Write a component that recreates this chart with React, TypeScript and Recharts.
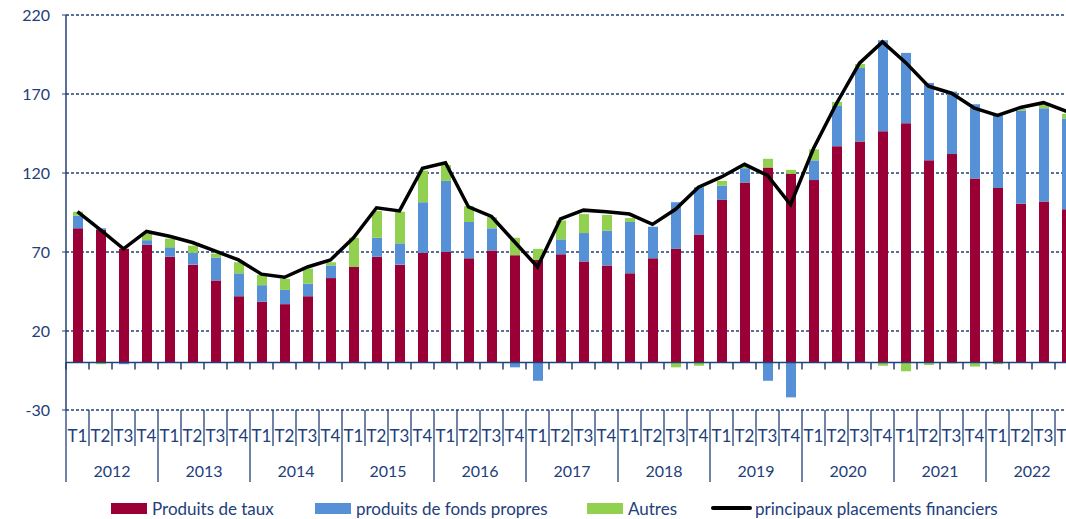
import * as React from "react";
import {
  ComposedChart,
  Bar,
  Line,
  XAxis,
  YAxis,
  CartesianGrid,
  ReferenceLine,
} from "recharts";

const YEARS = [2012, 2013, 2014, 2015, 2016, 2017, 2018, 2019, 2020, 2021, 2022];
const QUARTERS = ["T1", "T2", "T3", "T4"];

// one value per quarter, T1 2012 .. T4 2022
const TAUX = [
  85, 84, 72, 74.5, 67, 62, 52, 42, 38.5, 37, 42, 53.5,
  60.5, 67, 62, 69.5, 70, 66, 71, 68, 65, 68.5, 64, 61.5,
  56.5, 66, 72, 81, 103, 114, 123.5, 119.5, 115.5, 137, 140, 146.5,
  151.5, 128, 132, 116.5, 110.5, 100.5, 102, 97,
];
const FONDS_PROPRES = [
  8, 1, -1, 3, 6, 7.5, 14.5, 14.5, 10.5, 9, 8, 8,
  0, 12, 13.5, 32, 45, 23, 14, -3, -11.5, 9.5, 18, 22,
  32.5, 20, 29.5, 30, 9, 9, -11.5, -22, 12.5, 25.5, 46.5, 57.5,
  44.5, 49, 39.5, 47, 46, 59, 59, 57.5,
];
const AUTRES = [
  2.5, -1, 0, 4, 5.5, 4.5, 2.5, 7, 6.5, 7, 9.5, 2,
  18.5, 17, 20, 20, 10, 10, 7, 11, 7, 12, 12, 10,
  2.5, 0, -3, -2, 3, 1.5, 5.5, 2.5, 7, 2.5, 2.5, -2,
  -5.5, -1.5, -0.5, -2.5, -1, 1, 2, 3,
];
const PLACEMENTS = [
  95.5, 84, 72, 83, 80, 76, 70.5, 65, 56, 54, 60.5, 65,
  79, 98, 96, 123, 126.5, 98.5, 92.5, 76.5, 60.5, 91, 96.5, 95.5,
  94, 87.5, 97, 111, 117.5, 125.5, 118.5, 100, 135.5, 164, 189.5, 203,
  190, 175, 170.5, 161, 156.5, 161.5, 164.5, 159,
];

const Y_TICKS = [-30, 20, 70, 120, 170, 220];

const SERIES = [
  { key: "taux", name: "Produits de taux", color: "#9A0036", kind: "bar" },
  { key: "fp", name: "produits de fonds propres", color: "#5690D6", kind: "bar" },
  { key: "autres", name: "Autres", color: "#92D050", kind: "bar" },
  { key: "total", name: "principaux placements financiers", color: "#000000", kind: "line" },
];

const data = YEARS.flatMap((year, yi) =>
  QUARTERS.map((q, qi) => {
    const i = yi * 4 + qi;
    return {
      q,
      year,
      taux: TAUX[i],
      fp: FONDS_PROPRES[i],
      autres: AUTRES[i],
      total: PLACEMENTS[i],
    };
  })
);

const NAVY = "#22407A";
const FONT = "Lato, 'Liberation Sans', sans-serif";

// layout
const W = 1088;
const H = 519;
const MARGIN = { top: 15, right: 10, bottom: 29, left: 8 };
const Y_AXIS_W = 58;
const X_AXIS_H = 80;
const PLOT_W = W - MARGIN.left - MARGIN.right - Y_AXIS_W;
const PLOT_H = H - MARGIN.top - MARGIN.bottom - X_AXIS_H;
const BAND = PLOT_W / data.length;
const Y_MIN = Y_TICKS[0];
const Y_MAX = Y_TICKS[Y_TICKS.length - 1];

function QuarterTick(props: any) {
  const { x, y, index, payload } = props;
  const left = x - BAND / 2;
  const zeroY = y - (PLOT_H * (0 - Y_MIN)) / (Y_MAX - Y_MIN);
  const isYearStart = index % 4 === 0;
  const row = data[index];
  return (
    <g>
      <line x1={left} x2={left} y1={zeroY} y2={zeroY + 7} stroke={NAVY} strokeWidth={1.5} />
      <line
        x1={left}
        x2={left}
        y1={y}
        y2={y + (isYearStart ? 72 : 36)}
        stroke={NAVY}
        strokeWidth={1.3}
      />
      <text x={x} y={y + 32} textAnchor="middle" fill={NAVY} fontSize={17} fontFamily={FONT}>
        {payload.value}
      </text>
      {index % 4 === 1 && (
        <text
          x={x + BAND / 2}
          y={y + 67}
          textAnchor="middle"
          fill={NAVY}
          fontSize={16}
          fontFamily={FONT}
        >
          {row.year}
        </text>
      )}
    </g>
  );
}

const LEGEND_LEFT = [111, 315, 587, 711];

function LegendRow() {
  return (
    <>
      {SERIES.map((s, i) => (
        <div
          key={s.key}
          style={{
            position: "absolute",
            left: LEGEND_LEFT[i],
            top: 497,
            height: 22,
            display: "flex",
            alignItems: "center",
            fontFamily: FONT,
            fontSize: 17,
            color: NAVY,
            whiteSpace: "nowrap",
          }}
        >
          {s.kind === "bar" ? (
            <span style={{ width: 36, height: 11, background: s.color, marginRight: 5 }} />
          ) : (
            <span style={{ width: 41, height: 4, borderRadius: 2, background: s.color, marginRight: 3 }} />
          )}
          {s.name}
        </div>
      ))}
    </>
  );
}

export default function App() {
  return (
    <div
      style={{
        position: "absolute",
        left: 0,
        top: 0,
        width: 1066,
        height: H,
        overflow: "hidden",
        background: "#fff",
      }}
    >
      <ComposedChart width={W} height={H} data={data} margin={MARGIN} stackOffset="sign">
        <CartesianGrid
          vertical={false}
          stroke={NAVY}
          strokeDasharray="3 2"
          strokeWidth={1.3}
        />
        <XAxis
          dataKey="q"
          interval={0}
          height={X_AXIS_H}
          axisLine={false}
          tickLine={false}
          tickSize={0}
          tickMargin={0}
          tick={<QuarterTick />}
        />
        <YAxis
          domain={[Y_MIN, Y_MAX]}
          ticks={Y_TICKS}
          width={Y_AXIS_W}
          axisLine={{ stroke: NAVY, strokeWidth: 1.5 }}
          tickLine={{ stroke: NAVY }}
          tickSize={4}
          tickMargin={12}
          tick={{ fill: NAVY, fontSize: 16, fontFamily: FONT }}
        />
        <ReferenceLine y={0} stroke={NAVY} strokeWidth={1.5} />
        {SERIES.filter((s) => s.kind === "bar").map((s) => (
          <Bar
            key={s.key}
            dataKey={s.key}
            name={s.name}
            stackId="a"
            fill={s.color}
            barSize={10}
            isAnimationActive={false}
          />
        ))}
        {SERIES.filter((s) => s.kind === "line").map((s) => (
          <Line
            key={s.key}
            dataKey={s.key}
            name={s.name}
            type="linear"
            stroke={s.color}
            strokeWidth={3.5}
            dot={false}
            isAnimationActive={false}
          />
        ))}
      </ComposedChart>
      <LegendRow />
    </div>
  );
}
